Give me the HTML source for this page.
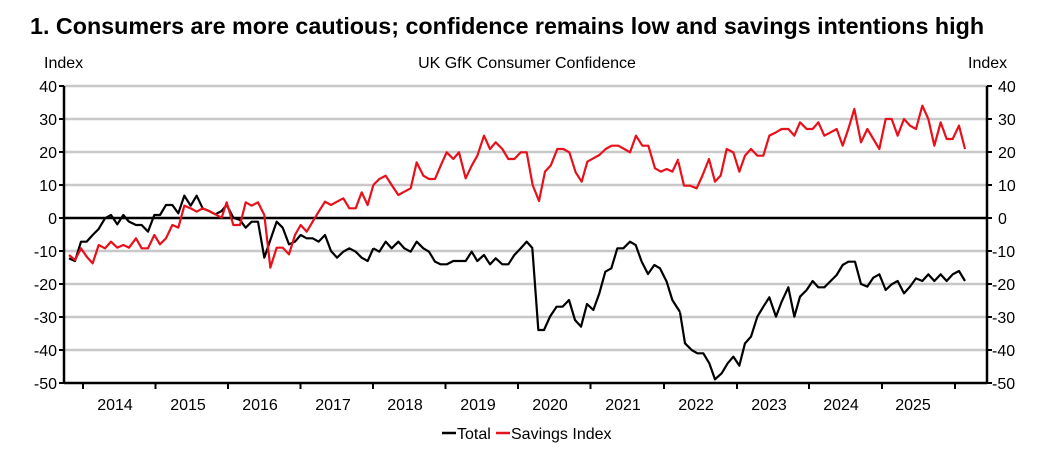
<!DOCTYPE html>
<html><head><meta charset="utf-8"><style>
html,body{margin:0;padding:0;background:#fff;}
svg{display:block;font-family:"Liberation Sans",Arial,sans-serif;}
</style></head><body>
<svg width="1037" height="451" viewBox="0 0 1037 451" xmlns="http://www.w3.org/2000/svg">
<text x="30" y="34" font-size="23.3" font-weight="bold" fill="#000">1. Consumers are more cautious; confidence remains low and savings intentions high</text>
<text x="44" y="68" font-size="16">Index</text>
<text x="968" y="68" font-size="16">Index</text>
<text x="527" y="68" font-size="16" text-anchor="middle">UK GfK Consumer Confidence</text>
<g stroke="#c8c8c8" stroke-width="2.5">
<line x1="64" x2="987" y1="86" y2="86"/><line x1="64" x2="987" y1="119" y2="119"/><line x1="64" x2="987" y1="152" y2="152"/><line x1="64" x2="987" y1="185" y2="185"/>
<line x1="64" x2="987" y1="251" y2="251"/><line x1="64" x2="987" y1="284" y2="284"/><line x1="64" x2="987" y1="317" y2="317"/><line x1="64" x2="987" y1="350" y2="350"/>
</g>
<line x1="64" x2="987" y1="218" y2="218" stroke="#000" stroke-width="2.5"/>
<g stroke="#000" stroke-width="2.5">
<line x1="64" x2="64" y1="86" y2="384"/><line x1="987" x2="987" y1="86" y2="384"/><line x1="64" x2="987" y1="383" y2="383"/>
</g>
<g stroke="#000" stroke-width="2">
<line x1="59" x2="64" y1="86" y2="86"/><line x1="59" x2="64" y1="119" y2="119"/><line x1="59" x2="64" y1="152" y2="152"/><line x1="59" x2="64" y1="185" y2="185"/><line x1="59" x2="64" y1="218" y2="218"/><line x1="59" x2="64" y1="251" y2="251"/><line x1="59" x2="64" y1="284" y2="284"/><line x1="59" x2="64" y1="317" y2="317"/><line x1="59" x2="64" y1="350" y2="350"/><line x1="59" x2="64" y1="383" y2="383"/>
<line x1="987" x2="992" y1="86" y2="86"/><line x1="987" x2="992" y1="119" y2="119"/><line x1="987" x2="992" y1="152" y2="152"/><line x1="987" x2="992" y1="185" y2="185"/><line x1="987" x2="992" y1="218" y2="218"/><line x1="987" x2="992" y1="251" y2="251"/><line x1="987" x2="992" y1="284" y2="284"/><line x1="987" x2="992" y1="317" y2="317"/><line x1="987" x2="992" y1="350" y2="350"/><line x1="987" x2="992" y1="383" y2="383"/>
<line x1="83" x2="83" y1="383" y2="389"/><line x1="155.5" x2="155.5" y1="383" y2="389"/><line x1="228" x2="228" y1="383" y2="389"/><line x1="300.5" x2="300.5" y1="383" y2="389"/><line x1="373" x2="373" y1="383" y2="389"/><line x1="445.5" x2="445.5" y1="383" y2="389"/><line x1="518" x2="518" y1="383" y2="389"/><line x1="590.5" x2="590.5" y1="383" y2="389"/><line x1="664" x2="664" y1="383" y2="389"/><line x1="737" x2="737" y1="383" y2="389"/><line x1="809" x2="809" y1="383" y2="389"/><line x1="882" x2="882" y1="383" y2="389"/><line x1="955" x2="955" y1="383" y2="389"/>
</g>
<g font-size="16" text-anchor="end">
<text x="57" y="92">40</text><text x="57" y="125">30</text><text x="57" y="158">20</text><text x="57" y="191">10</text><text x="57" y="224">0</text><text x="57" y="257">-10</text><text x="57" y="290">-20</text><text x="57" y="323">-30</text><text x="57" y="356">-40</text><text x="57" y="389">-50</text>
</g>
<g font-size="16" text-anchor="start">
<text x="998" y="92">40</text><text x="998" y="125">30</text><text x="998" y="158">20</text><text x="998" y="191">10</text><text x="998" y="224">0</text><text x="992" y="257">-10</text><text x="992" y="290">-20</text><text x="992" y="323">-30</text><text x="992" y="356">-40</text><text x="992" y="389">-50</text>
</g>
<g font-size="16" text-anchor="middle">
<text x="115" y="410">2014</text><text x="188" y="410">2015</text><text x="260" y="410">2016</text><text x="333" y="410">2017</text><text x="405" y="410">2018</text><text x="478" y="410">2019</text><text x="550" y="410">2020</text><text x="623" y="410">2021</text><text x="696" y="410">2022</text><text x="769" y="410">2023</text><text x="841" y="410">2024</text><text x="913" y="410">2025</text>
</g>
<g fill="none" stroke-width="2.2" stroke-linejoin="round">
<g stroke="#000">
<polyline transform="translate(60,80) scale(0.33333)" vector-effect="non-scaling-stroke" points="27,535 45,543 63,485 80,485 98,465 116,447 135,415 153,405 172,433 190,405 207,425 228,435 245,435 264,455 283,405 300,405 318,375 337,375 355,400 373,347 392,377 410,347 428,385 447,393 466,403 485,393 500,375 520,413 540,420 557,443 575,425 594,425 613,533 631,480 650,425 668,443 687,493 705,485 722,465 740,475 758,475 776,485 795,465 813,513 831,533 850,515 868,505 887,515 905,533 923,543 940,505"/>
<polyline transform="translate(370,80) scale(0.33333)" vector-effect="non-scaling-stroke" points="10,505 28,515 47,485 65,505 85,485 103,505 122,515 140,485 160,505 177,515 195,545 212,553 230,553 250,543 267,543 287,543 305,515 322,543 342,525 360,553 377,535 397,553 415,553 433,525 452,505 470,485 488,505"/>
<polyline transform="translate(520,200) scale(0.33333)" vector-effect="non-scaling-stroke" points="37,145 55,390 72,390 90,350 110,320 128,320 147,300 165,360 183,380 201,312 220,330 238,280 256,215 274,205 292,145 310,145 330,125 347,135 365,185 384,222 403,195 420,205 440,245 457,300 480,336"/>
<polyline transform="translate(680,80) scale(0.33333)" vector-effect="non-scaling-stroke" points="0,697 15,790 35,810 52,820 70,820 88,850 105,898 125,880 143,850 160,830 178,857 195,790 213,770 232,710 250,680 268,652 288,710 305,665 325,622 343,710 360,650 380,630 398,603 415,622 433,622 452,603 470,585 488,555 505,545 525,545 543,612 562,620 580,593 598,583 617,630 635,613 653,603 672,640 690,620 708,595 727,603 745,583 763,603 782,583 800,603 818,583 837,573 855,603"/>
</g>
<g stroke="#e8101a">
<polyline transform="translate(60,80) scale(0.33333)" vector-effect="non-scaling-stroke" points="27,525 45,540 63,505 80,530 98,550 116,495 135,505 153,485 172,503 190,495 207,503 228,475 245,505 264,505 283,465 300,493 318,475 337,435 355,443 373,377 392,385 410,395 428,385 447,393 466,403 485,413 500,367 520,435 540,435 557,367 575,377 594,367 613,405 631,563 650,503 668,503 687,523 705,465 722,435 740,455 758,425 776,395 795,365 813,375 831,365 850,355 868,385 887,385 905,337 923,375 940,315"/>
<polyline transform="translate(370,80) scale(0.33333)" vector-effect="non-scaling-stroke" points="10,315 28,297 47,287 65,315 85,345 103,335 122,325 140,247 160,287 177,297 195,297 212,257 230,217 250,237 267,217 287,295 305,257 322,227 342,167 360,207 377,187 397,207 415,237 433,237 452,217 470,217 488,315 507,363 525,275 542,257 562,207 580,207 598,217 617,277 635,305 652,245 670,235 688,225 707,207 725,197 745,197 763,207 780,217 798,167 817,197 835,197 855,265 873,275 890,267 907,275 925,237"/>
<polyline transform="translate(680,80) scale(0.33333)" vector-effect="non-scaling-stroke" points="-5,245 12,317 30,317 50,325 68,285 87,237 105,305 122,287 140,207 160,217 178,275 195,227 213,207 232,227 250,227 268,167 288,157 305,147 325,147 343,167 360,127 380,147 398,147 415,127 433,167 452,157 470,147 488,197 505,147 523,87 543,187 562,147 580,177 598,207 617,117 635,117 653,167 672,117 690,137 708,147 727,77 745,117 763,197 782,127 800,177 818,177 837,137 855,207"/>
</g>
</g>
<line x1="442" x2="456" y1="433" y2="433" stroke="#000" stroke-width="2.5"/>
<text x="457" y="439" font-size="16">Total</text>
<line x1="496" x2="510" y1="433" y2="433" stroke="#e8101a" stroke-width="2.5"/>
<text x="511" y="439" font-size="16">Savings Index</text>
</svg>
</body></html>
